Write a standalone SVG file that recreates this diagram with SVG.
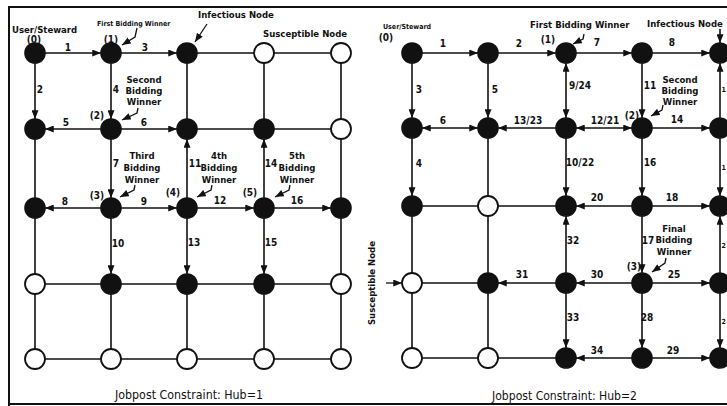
<svg xmlns="http://www.w3.org/2000/svg" width="727" height="406" viewBox="0 0 727 406">
<defs>
<marker id="ah" viewBox="0 0 10 8" refX="10" refY="4" markerWidth="9" markerHeight="7" markerUnits="userSpaceOnUse" orient="auto-start-reverse"><path d="M0,0 L10,4 L0,8 z" fill="#111"/></marker>
<style>
.e{stroke:#111;stroke-width:1.6;fill:none}
.a{stroke:#111;stroke-width:1.6;fill:none;marker-end:url(#ah)}
.d{stroke:#111;stroke-width:1.6;fill:none;marker-end:url(#ah);marker-start:url(#ah)}
.p{stroke:#111;stroke-width:1.3;fill:none;marker-end:url(#ah)}
.b{fill:#111;stroke:#111;stroke-width:1.6}
.w{fill:#fff;stroke:#111;stroke-width:1.8}
text{font-family:"DejaVu Sans Condensed","Liberation Sans Narrow","Liberation Sans",sans-serif;fill:#111}
.n{font-size:10px;font-weight:bold;text-anchor:middle}
.l{font-size:9.5px;font-weight:bold}
.s{font-size:7px;font-weight:bold}
.c{font-size:9.5px;font-weight:bold;text-anchor:middle}
.t{font-size:13px}
.frame{stroke:#111;stroke-width:2;fill:none}
</style>
</defs>
<rect width="727" height="406" fill="#fff"/>
<path class="frame" d="M727,7 H9 V406 M9,404 H727"/>

<g id="connectors">
<!-- left plain grid -->
<path class="e" d="M187,53H341 M187,129H341 M35,284H341 M35,359H341 M35,129V359 M111,284V359 M187,53V129 M187,284V359 M264,53V129 M264,284V359 M341,53V359"/>
<!-- left arrows -->
<line class="a" x1="45" y1="53" x2="101" y2="53"/>
<line class="a" x1="121" y1="53" x2="177" y2="53"/>
<line class="a" x1="35" y1="63" x2="35" y2="119"/>
<line class="a" x1="111" y1="63" x2="111" y2="119"/>
<line class="a" x1="101" y1="129" x2="45" y2="129"/>
<line class="a" x1="121" y1="129" x2="177" y2="129"/>
<line class="a" x1="111" y1="139" x2="111" y2="198"/>
<line class="a" x1="101" y1="208" x2="45" y2="208"/>
<line class="a" x1="121" y1="208" x2="177" y2="208"/>
<line class="a" x1="111" y1="218" x2="111" y2="274"/>
<line class="a" x1="187" y1="198" x2="187" y2="139"/>
<line class="a" x1="197" y1="208" x2="254" y2="208"/>
<line class="a" x1="187" y1="218" x2="187" y2="274"/>
<line class="a" x1="264" y1="198" x2="264" y2="139"/>
<line class="a" x1="264" y1="218" x2="264" y2="274"/>
<line class="a" x1="274" y1="208" x2="331" y2="208"/>
<!-- left pointers -->
<polyline class="p" points="137,28 135,37 122,45"/>
<line class="p" x1="207" y1="24" x2="195" y2="42"/>
<polyline class="p" points="138,108 137,113 122,120"/>
<polyline class="p" points="135,185 134,190 120,197"/>
<polyline class="p" points="212,185 211,190 197,197"/>
<polyline class="p" points="290,185 289,190 275,197"/>

<!-- right plain grid -->
<path class="e" d="M488,128V206 M412,206H566 M412,206V358 M488,206V358 M412,283H488 M412,358H566"/>
<!-- right arrows -->
<line class="a" x1="422" y1="53" x2="478" y2="53"/>
<line class="a" x1="498" y1="53" x2="556" y2="53"/>
<line class="a" x1="576" y1="53" x2="632" y2="53"/>
<line class="a" x1="652" y1="53" x2="710" y2="53"/>
<line class="a" x1="412" y1="63" x2="412" y2="118"/>
<line class="a" x1="488" y1="63" x2="488" y2="118"/>
<line class="d" x1="566" y1="63" x2="566" y2="118"/>
<line class="a" x1="642" y1="63" x2="642" y2="118"/>
<line class="a" x1="720" y1="29" x2="720" y2="43"/>
<line class="a" x1="720" y1="118" x2="720" y2="63"/>
<line class="d" x1="422" y1="128" x2="478" y2="128"/>
<line class="a" x1="556" y1="128" x2="498" y2="128"/>
<line class="d" x1="576" y1="128" x2="632" y2="128"/>
<line class="a" x1="652" y1="128" x2="710" y2="128"/>
<line class="a" x1="412" y1="138" x2="412" y2="196"/>
<line class="a" x1="566" y1="138" x2="566" y2="196"/>
<line class="a" x1="642" y1="138" x2="642" y2="196"/>
<line class="a" x1="720" y1="138" x2="720" y2="196"/>
<line class="a" x1="632" y1="206" x2="576" y2="206"/>
<line class="a" x1="652" y1="206" x2="710" y2="206"/>
<line class="a" x1="566" y1="273" x2="566" y2="216"/>
<line class="a" x1="642" y1="216" x2="642" y2="273"/>
<line class="a" x1="720" y1="273" x2="720" y2="216"/>
<line class="a" x1="556" y1="283" x2="498" y2="283"/>
<line class="a" x1="632" y1="283" x2="576" y2="283"/>
<line class="a" x1="652" y1="283" x2="710" y2="283"/>
<line class="a" x1="566" y1="293" x2="566" y2="348"/>
<line class="a" x1="642" y1="293" x2="642" y2="348"/>
<line class="a" x1="720" y1="293" x2="720" y2="348"/>
<line class="a" x1="632" y1="358" x2="576" y2="358"/>
<line class="a" x1="652" y1="358" x2="710" y2="358"/>
<line class="p" x1="386" y1="283" x2="402" y2="283"/>
<!-- right pointers -->
<polyline class="p" points="584,34 583,39 573,44"/>
<polyline class="p" points="663,105 662,110 651,116"/>
<polyline class="p" points="666,258 665,263 652,272"/>
</g>

<!-- left nodes -->
<g id="L00"><circle class="b" cx="35" cy="53" r="10"/></g>
<g id="L01"><circle class="b" cx="111" cy="53" r="10"/></g>
<g id="L02"><circle class="b" cx="187" cy="53" r="10"/></g>
<g id="L03"><circle class="w" cx="264" cy="53" r="10"/></g>
<g id="L04"><circle class="w" cx="341" cy="53" r="10"/></g>
<g id="L10"><circle class="b" cx="35" cy="129" r="10"/></g>
<g id="L11"><circle class="b" cx="111" cy="129" r="10"/></g>
<g id="L12"><circle class="b" cx="187" cy="129" r="10"/></g>
<g id="L13"><circle class="b" cx="264" cy="129" r="10"/></g>
<g id="L14"><circle class="w" cx="341" cy="129" r="10"/></g>
<g id="L20"><circle class="b" cx="35" cy="208" r="10"/></g>
<g id="L21"><circle class="b" cx="111" cy="208" r="10"/></g>
<g id="L22"><circle class="b" cx="187" cy="208" r="10"/></g>
<g id="L23"><circle class="b" cx="264" cy="208" r="10"/></g>
<g id="L24"><circle class="b" cx="341" cy="208" r="10"/></g>
<g id="L30"><circle class="w" cx="35" cy="284" r="10"/></g>
<g id="L31"><circle class="b" cx="111" cy="284" r="10"/></g>
<g id="L32"><circle class="b" cx="187" cy="284" r="10"/></g>
<g id="L33"><circle class="b" cx="264" cy="284" r="10"/></g>
<g id="L34"><circle class="w" cx="341" cy="284" r="10"/></g>
<g id="L40"><circle class="w" cx="35" cy="359" r="10"/></g>
<g id="L41"><circle class="w" cx="111" cy="359" r="10"/></g>
<g id="L42"><circle class="w" cx="187" cy="359" r="10"/></g>
<g id="L43"><circle class="w" cx="264" cy="359" r="10"/></g>
<g id="L44"><circle class="w" cx="341" cy="359" r="10"/></g>

<!-- right nodes -->
<g id="R00"><circle class="b" cx="412" cy="53" r="10"/></g>
<g id="R01"><circle class="b" cx="488" cy="53" r="10"/></g>
<g id="R02"><circle class="b" cx="566" cy="53" r="10"/></g>
<g id="R03"><circle class="b" cx="642" cy="53" r="10"/></g>
<g id="R04"><circle class="b" cx="720" cy="53" r="10"/></g>
<g id="R10"><circle class="b" cx="412" cy="128" r="10"/></g>
<g id="R11"><circle class="b" cx="488" cy="128" r="10"/></g>
<g id="R12"><circle class="b" cx="566" cy="128" r="10"/></g>
<g id="R13"><circle class="b" cx="642" cy="128" r="10"/></g>
<g id="R14"><circle class="b" cx="720" cy="128" r="10"/></g>
<g id="R20"><circle class="b" cx="412" cy="206" r="10"/></g>
<g id="R21"><circle class="w" cx="488" cy="206" r="10"/></g>
<g id="R22"><circle class="b" cx="566" cy="206" r="10"/></g>
<g id="R23"><circle class="b" cx="642" cy="206" r="10"/></g>
<g id="R24"><circle class="b" cx="720" cy="206" r="10"/></g>
<g id="R30"><circle class="w" cx="412" cy="283" r="10"/></g>
<g id="R31"><circle class="b" cx="488" cy="283" r="10"/></g>
<g id="R32"><circle class="b" cx="566" cy="283" r="10"/></g>
<g id="R33"><circle class="b" cx="642" cy="283" r="10"/></g>
<g id="R34"><circle class="b" cx="720" cy="283" r="10"/></g>
<g id="R40"><circle class="w" cx="412" cy="358" r="10"/></g>
<g id="R41"><circle class="w" cx="488" cy="358" r="10"/></g>
<g id="R42"><circle class="b" cx="566" cy="358" r="10"/></g>
<g id="R43"><circle class="b" cx="642" cy="358" r="10"/></g>
<g id="R44"><circle class="b" cx="720" cy="358" r="10"/></g>

<g id="labels-left">
<text class="n" x="68" y="51">1</text>
<text class="n" x="145" y="51">3</text>
<text class="n" x="40" y="93">2</text>
<text class="n" x="116" y="93">4</text>
<text class="n" x="66" y="126">5</text>
<text class="n" x="144" y="126">6</text>
<text class="n" x="116" y="167">7</text>
<text class="n" x="65" y="205">8</text>
<text class="n" x="144" y="205">9</text>
<text class="n" x="118" y="247">10</text>
<text class="n" x="195" y="167">11</text>
<text class="n" x="220" y="204">12</text>
<text class="n" x="194" y="246">13</text>
<text class="n" x="271" y="167">14</text>
<text class="n" x="271" y="246">15</text>
<text class="n" x="297" y="204">16</text>
<text class="l" x="12" y="33">User/Steward</text>
<text class="n" x="34" y="43">(0)</text>
<text class="s" x="97" y="26">First Bidding Winner</text>
<text class="n" x="111" y="43">(1)</text>
<text class="l" x="198" y="18">Infectious Node</text>
<text class="l" x="263" y="37">Susceptible Node</text>
<text class="c" x="144" y="83">Second</text>
<text class="c" x="144" y="94">Bidding</text>
<text class="c" x="144" y="105">Winner</text>
<text class="n" x="97" y="119">(2)</text>
<text class="c" x="142" y="159">Third</text>
<text class="c" x="142" y="171">Bidding</text>
<text class="c" x="142" y="183">Winner</text>
<text class="n" x="97" y="199">(3)</text>
<text class="c" x="219" y="159">4th</text>
<text class="c" x="219" y="171">Bidding</text>
<text class="c" x="219" y="183">Winner</text>
<text class="n" x="173" y="196">(4)</text>
<text class="c" x="297" y="159">5th</text>
<text class="c" x="297" y="171">Bidding</text>
<text class="c" x="297" y="183">Winner</text>
<text class="n" x="250" y="196">(5)</text>
<text class="t" x="115" y="399" textLength="148" lengthAdjust="spacingAndGlyphs">Jobpost Constraint: Hub=1</text>
</g>

<g id="labels-right">
<text class="n" x="443" y="47">1</text>
<text class="n" x="519" y="47">2</text>
<text class="n" x="597" y="46">7</text>
<text class="n" x="672" y="46">8</text>
<text class="n" x="419" y="93">3</text>
<text class="n" x="495" y="93">5</text>
<text class="n" x="580" y="89">9/24</text>
<text class="n" x="650" y="89">11</text>
<text class="n" x="443" y="124">6</text>
<text class="n" x="528" y="124">13/23</text>
<text class="n" x="605" y="124">12/21</text>
<text class="n" x="677" y="123">14</text>
<text class="n" x="419" y="167">4</text>
<text class="n" x="580" y="166">10/22</text>
<text class="n" x="650" y="166">16</text>
<text class="n" x="597" y="201">20</text>
<text class="n" x="672" y="201">18</text>
<text class="n" x="573" y="244">32</text>
<text class="n" x="648" y="244">17</text>
<text class="n" x="522" y="278">31</text>
<text class="n" x="597" y="278">30</text>
<text class="n" x="674" y="278">25</text>
<text class="n" x="573" y="321">33</text>
<text class="n" x="647" y="321">28</text>
<text class="n" x="597" y="354">34</text>
<text class="n" x="673" y="354">29</text>
<text class="s" x="721.5" y="92">1</text>
<text class="s" x="721.5" y="170">1</text>
<text class="s" x="721.5" y="248">2</text>
<text class="s" x="721.5" y="324">2</text>
<text class="s" x="383" y="29">User/Steward</text>
<text class="n" x="386" y="41">(0)</text>
<text class="l" x="530" y="28">First Bidding Winner</text>
<text class="n" x="548" y="43">(1)</text>
<text class="l" x="647" y="27">Infectious Node</text>
<text class="c" x="680" y="83">Second</text>
<text class="c" x="680" y="94">Bidding</text>
<text class="c" x="680" y="105">Winner</text>
<text class="n" x="632" y="119">(2)</text>
<text class="c" x="674" y="232">Final</text>
<text class="c" x="674" y="243">Bidding</text>
<text class="c" x="674" y="255">Winner</text>
<text class="n" x="634" y="270">(3)</text>
<text class="l" x="0" y="0" text-anchor="middle" transform="translate(375,283) rotate(-90)">Susceptible Node</text>
<text class="t" x="492" y="400" textLength="145" lengthAdjust="spacingAndGlyphs">Jobpost Constraint: Hub=2</text>
</g>
</svg>
